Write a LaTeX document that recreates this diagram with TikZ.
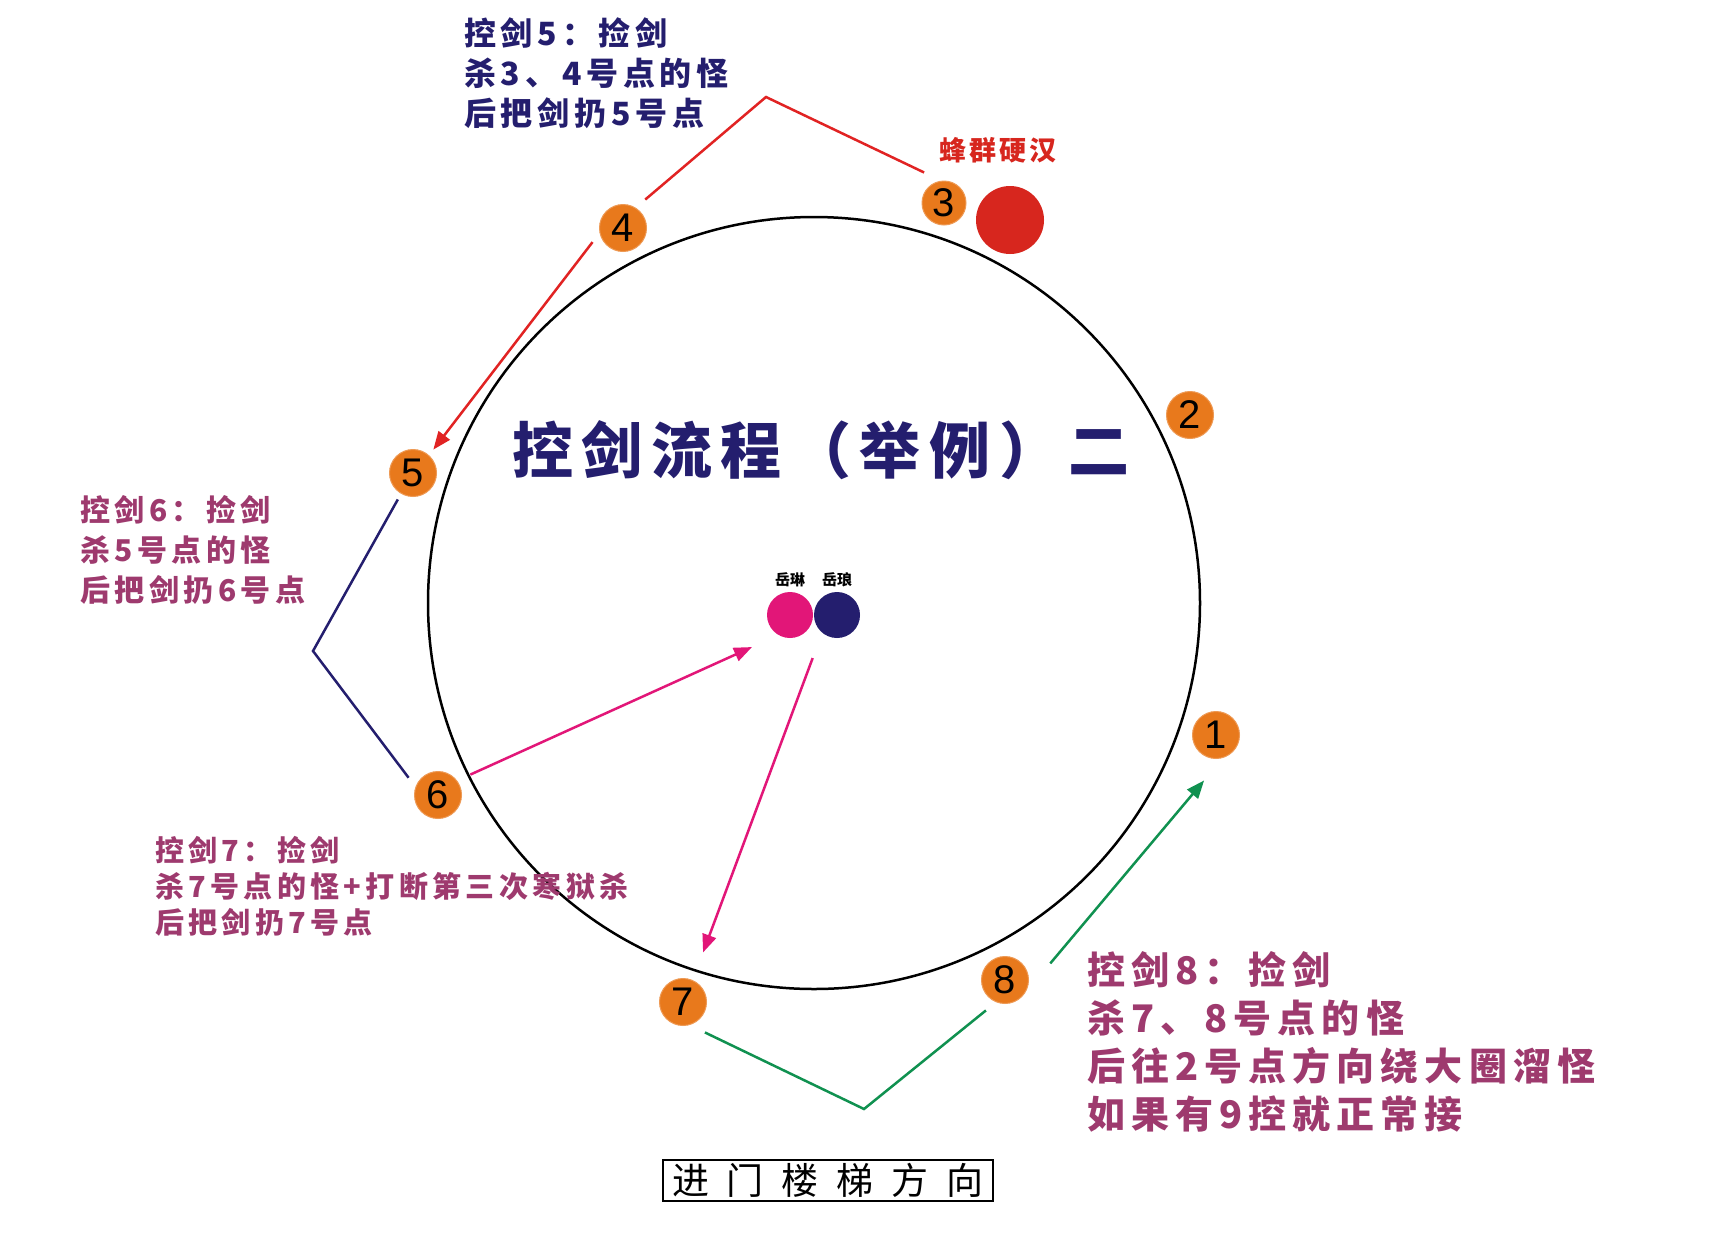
\documentclass[tikz,border=0pt]{standalone}
\usepackage{fontspec}
\usetikzlibrary{arrows.meta}
\setmainfont{Liberation Sans}
\newfontfamily\cjkA[LetterSpace=15]{Noto Sans CJK SC}
\newfontfamily\cjkB[LetterSpace=16]{Noto Sans CJK SC}
\newfontfamily\cjkT[LetterSpace=14]{Noto Sans CJK SC}
\newfontfamily\cjkC[LetterSpace=10]{Noto Sans CJK SC}
\newfontfamily\cjkD{Noto Sans CJK SC}
\definecolor{orng}{RGB}{232,121,28}
\definecolor{navyc}{RGB}{36,30,110}
\definecolor{plum}{RGB}{158,58,110}
\definecolor{bossred}{RGB}{215,38,30}
\definecolor{linered}{RGB}{225,35,35}
\definecolor{pinkc}{RGB}{226,22,120}
\definecolor{greenc}{RGB}{16,145,80}
\tikzset{
  num/.style={circle, fill=orng, draw=orng!75!white, line width=1pt, minimum size=47pt, inner sep=0pt, text=black, font=\fontsize{40}{40}\selectfont},
  conn/.style={line width=2.5pt},
  tipped/.style={-{Triangle[length=18pt,width=14pt]}},
  dot/.style={circle, minimum size=46pt, inner sep=0pt},
  lbl/.style={anchor=north west, inner sep=0pt, align=left},
}
\begin{document}
\begin{tikzpicture}[x=1pt,y=-1pt]
\useasboundingbox[fill=white] (0,0) rectangle (1721,1248);
% big ring
\node[circle, draw=black, line width=2.5pt, minimum size=772pt, inner sep=0pt] (ring) at (814,603) {};
% title
\node[inner sep=0pt, text=navyc, font=\cjkT\bfseries\fontsize{61}{61}\selectfont] (title) at (821,450) {控剑流程（举例）二};
% numbered points
\node[num] (n1) at (1216,735) {1};
\node[num] (n2) at (1190,415) {2};
\node[num, minimum size=44pt] (n3) at (944,203) {3};
\node[num] (n4) at (623,228) {4};
\node[num] (n5) at (413,473) {5};
\node[num] (n6) at (438,795) {6};
\node[num] (n7) at (683,1002) {7};
\node[num] (n8) at (1005,980) {8};
% boss
\node[dot, fill=bossred, minimum size=68pt] (boss) at (1010,220) {};
\node[inner sep=0pt, text=bossred, font=\cjkC\bfseries\fontsize{27}{27}\selectfont] (bosslbl) at (998,150) {蜂群硬汉};
% players
\node[dot, fill=pinkc] (yl) at (790,615) {};
\node[dot, fill=navyc] (yla) at (837,615) {};
\node[inner sep=0pt, font=\cjkD\bfseries\fontsize{15}{15}\selectfont] (ylt) at (790,580) {岳琳};
\node[inner sep=0pt, font=\cjkD\bfseries\fontsize{15}{15}\selectfont] (ylat) at (837,580) {岳琅};
% labels
\node[lbl, text=navyc, font=\cjkA\bfseries\fontsize{32}{40}\selectfont] (t5) at (464,17) {控剑5：捡剑\\杀3、4号点的怪\\后把剑扔5号点};
\node[lbl, text=plum, font=\cjkA\bfseries\fontsize{30}{40}\selectfont] (t6) at (80,495) {控剑6：捡剑\\杀5号点的怪\\后把剑扔6号点};
\node[lbl, text=plum, font=\cjkA\bfseries\fontsize{29}{36}\selectfont] (t7) at (155,836) {控剑7：捡剑\\杀7号点的怪+打断第三次寒狱杀\\后把剑扔7号点};
\node[lbl, text=plum, font=\cjkB\bfseries\fontsize{38}{48}\selectfont] (t8) at (1087,951) {控剑8：捡剑\\杀7、8号点的怪\\后往2号点方向绕大圈溜怪\\如果有9控就正常接};
% bottom box
\node[draw=black, line width=2pt, minimum width=330pt, minimum height=41pt, inner sep=0pt, font=\cjkD\fontsize{37}{37}\selectfont] (door) at (828,1180) {\makebox[312pt][s]{进\hfil 门\hfil 楼\hfil 梯\hfil 方\hfil 向}};
% connectors
\coordinate (rpk) at (766,97);
\draw[conn, linered, shorten <=12.5pt, shorten >=19pt] (n4.58) -- (rpk) -- (n3.97);
\draw[conn, linered, tipped, shorten <=11.5pt, shorten >=7pt] (n4.192) -- (n5.48);
\coordinate (bpk) at (313,651);
\draw[conn, navyc, shorten <=6.5pt, shorten >=11.4pt] (n5.240) -- (bpk) -- (n6.160);
\draw[conn, pinkc, tipped, shorten <=14.5pt, shorten >=29pt] (n6.37) -- (yl.240);
\draw[conn, pinkc, tipped, shorten <=27pt, shorten >=29.5pt] (yla.230) -- (n7.66);
\coordinate (gpk) at (864,1109);
\draw[conn, greenc, shorten <=17pt, shorten >=13pt] (n7.286) -- (gpk) -- (n8.248);
\draw[conn, greenc, tipped, shorten <=40.6pt, shorten >=29.4pt] (n8.323) -- (n1.287);
\end{tikzpicture}
\end{document}
